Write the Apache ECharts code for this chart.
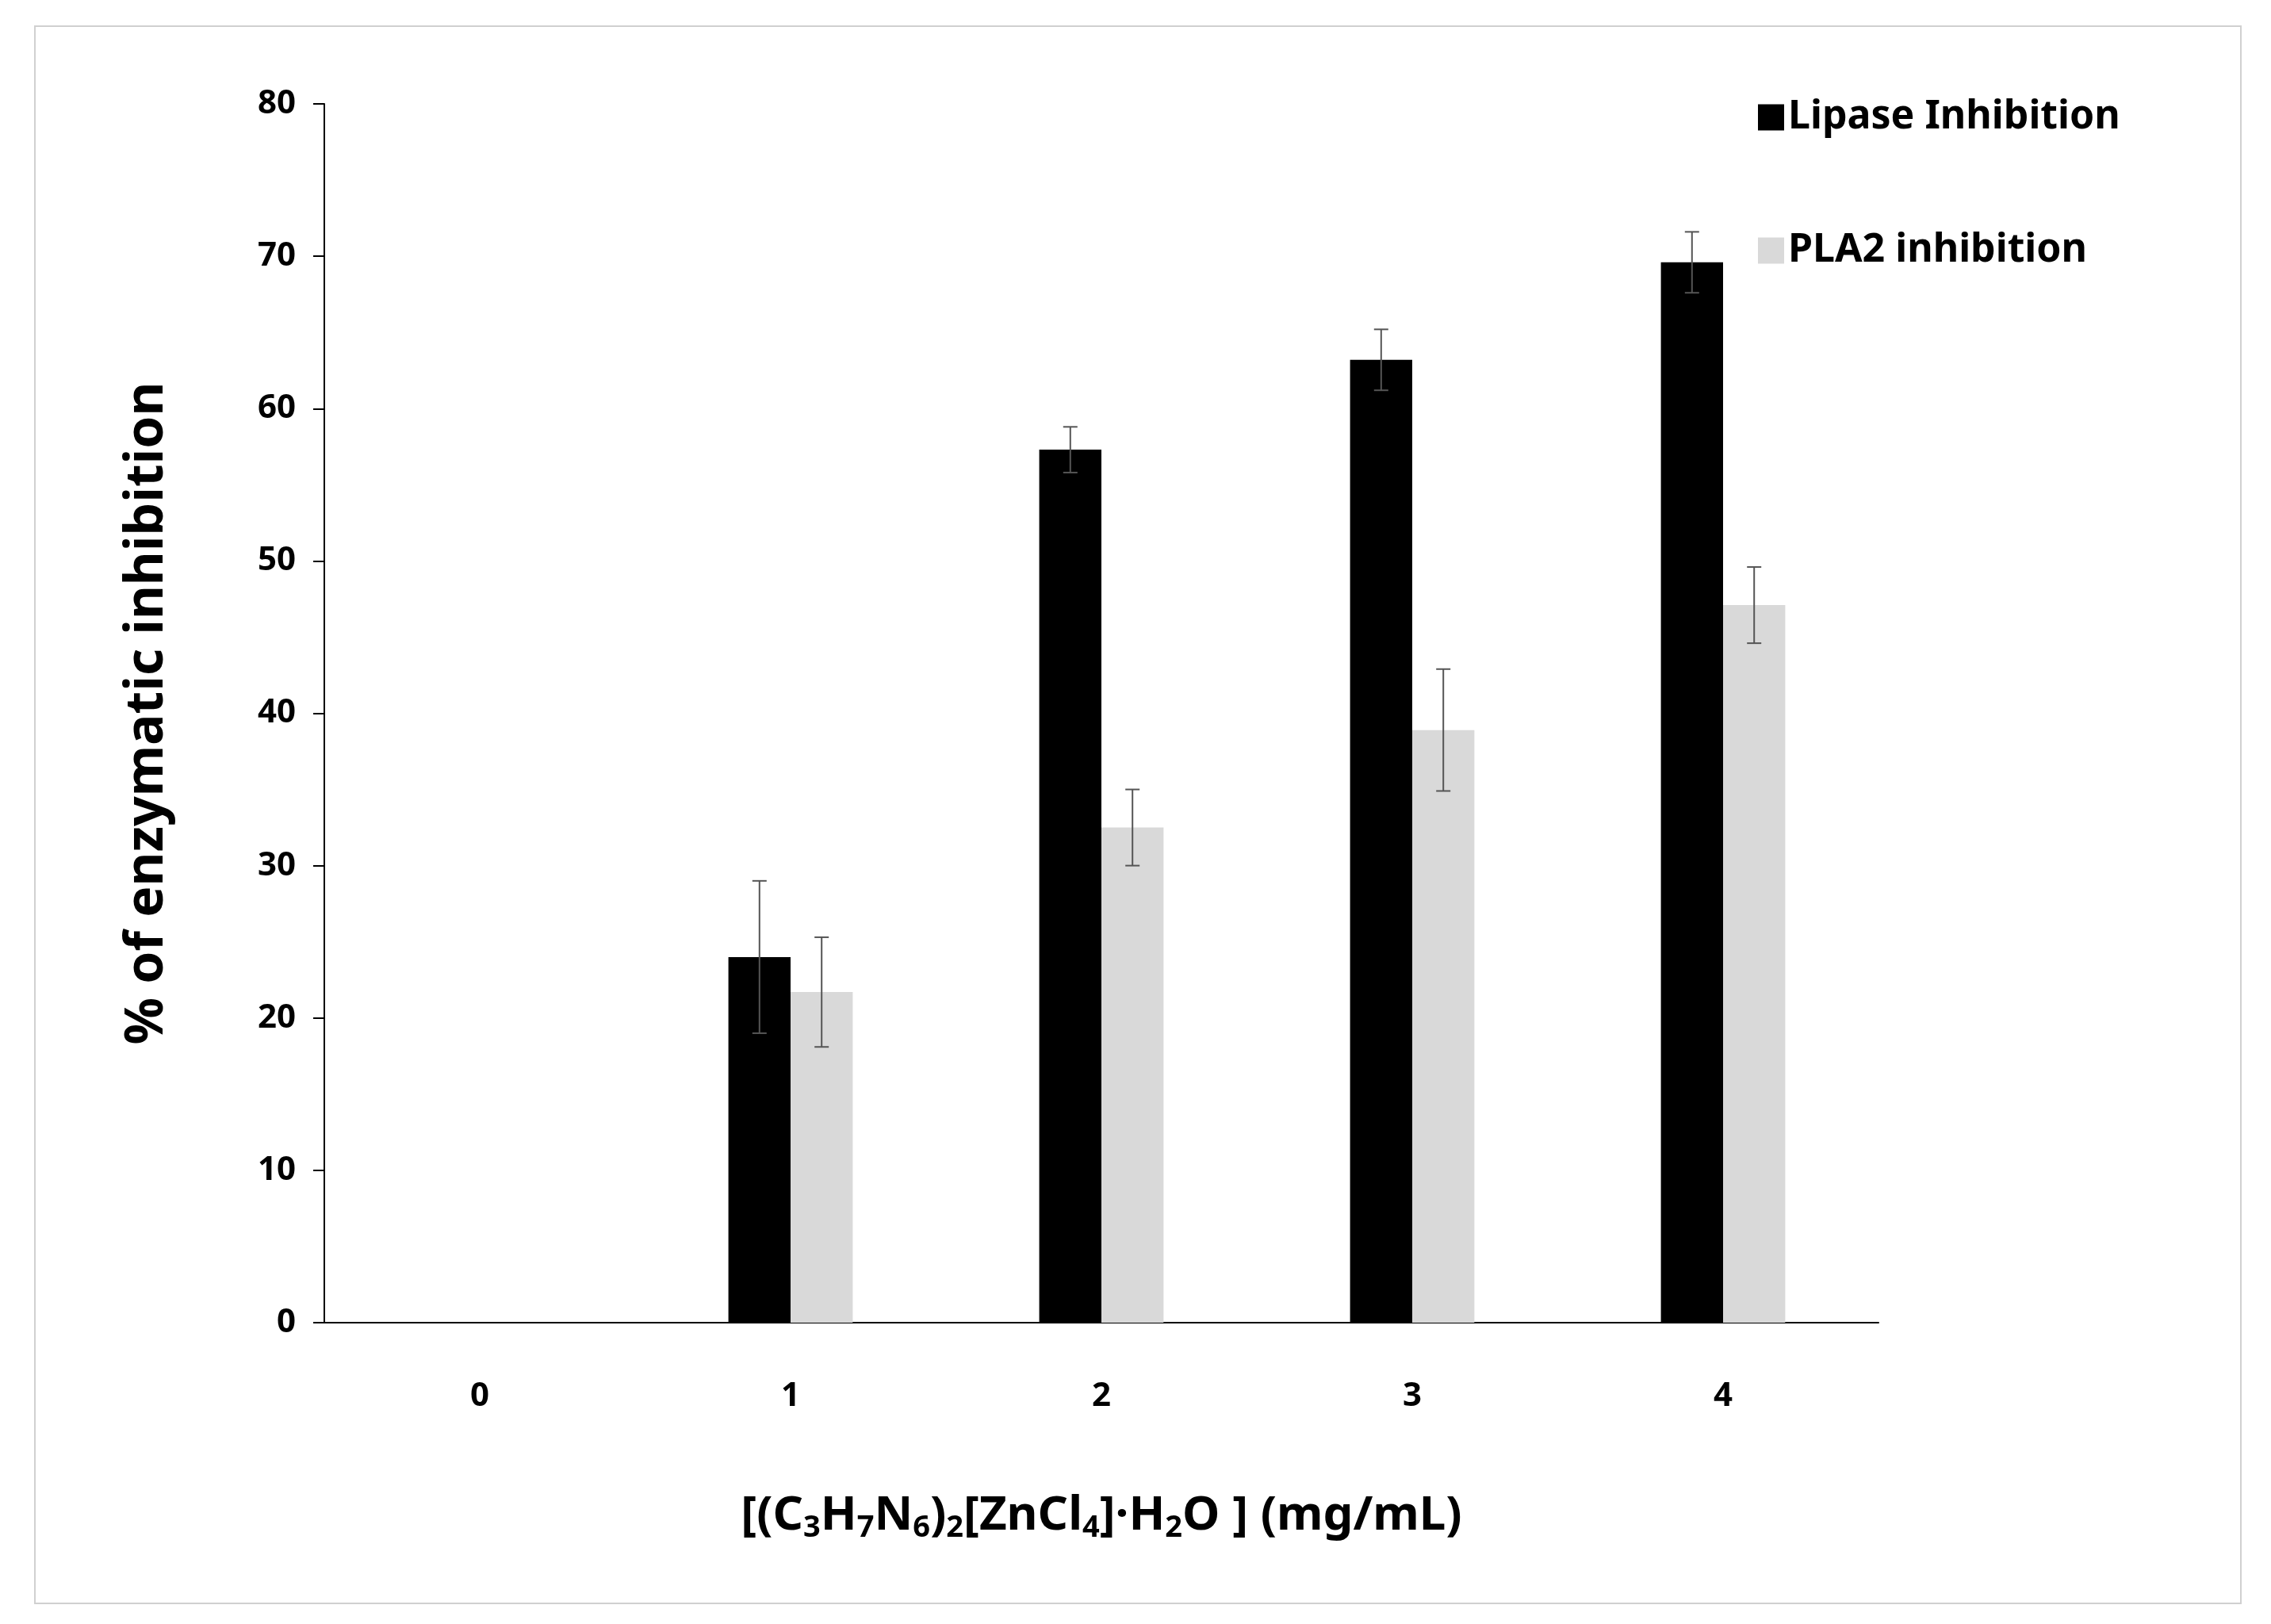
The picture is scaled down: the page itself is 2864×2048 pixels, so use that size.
<!DOCTYPE html>
<html>
<head>
<meta charset="utf-8">
<script src="https://cdn.jsdelivr.net/npm/echarts@6/dist/echarts.min.js"></script>
<style>html,body{margin:0;background:#fff}#c{width:2864px;height:2048px}</style>
</head>
<body>
<div id="c"></div>
<script>
var categories = ['0', '1', '2', '3', '4'];
var lipase = [0, 24.0, 57.3, 63.2, 69.6];
var lipaseErr = [0, 5.0, 1.5, 2.0, 2.0];
var pla2 = [0, 21.7, 32.5, 38.9, 47.1];
var pla2Err = [0, 3.6, 2.5, 4.0, 2.5];
var yTicks = [0, 80, 10];

function errSeries(vals, errs, side) {
	var data = [];
	for (var i = 0; i < vals.length; i++) {
		if (errs[i] > 0) data.push([i, vals[i] - errs[i], vals[i] + errs[i]]);
	}
	return {
		type: 'custom',
		silent: true,
		z: 10,
		data: data,
		renderItem: function(params, api) {
			var w = api.size([1, 0])[0];
			var off = side * w * 0.1;
			var lo = api.coord([api.value(0), api.value(1)]);
			var hi = api.coord([api.value(0), api.value(2)]);
			var x = lo[0] + off, cap = 9;
			var st = { stroke: '#555', lineWidth: 2 };
			return { type: 'group', children: [
				{ type: 'line', shape: { x1: x, y1: lo[1], x2: x, y2: hi[1] }, style: st },
				{ type: 'line', shape: { x1: x - cap, y1: lo[1], x2: x + cap, y2: lo[1] }, style: st },
				{ type: 'line', shape: { x1: x - cap, y1: hi[1], x2: x + cap, y2: hi[1] }, style: st }
			] };
		}
	};
}

var chart = echarts.init(document.getElementById('c'));
var font = '"Noto Sans", sans-serif';
chart.setOption({
	animation: false,
	graphic: [{ type: 'rect', shape: { x: 44, y: 33, width: 2782, height: 1989 }, style: { fill: 'none', stroke: '#d0d0d0', lineWidth: 2 } }],
	grid: { left: 409, right: 495, top: 131, bottom: 380 },
	legend: {
		orient: 'vertical', left: 2212, top: 118, itemWidth: 33, itemHeight: 33, itemGap: 118,
		icon: 'rect',
		textStyle: { fontFamily: font, fontWeight: 'bold', fontSize: 50, color: '#000' },
		data: ['Lipase Inhibition', 'PLA2 inhibition']
	},
	xAxis: {
		type: 'category', data: categories,
		axisLine: { lineStyle: { color: '#000', width: 2 } },
		axisTick: { show: false },
		axisLabel: { margin: 72, fontFamily: font, fontWeight: 'bold', fontSize: 42, color: '#000' },
		name: '{n|[(C}{s|3}{n|H}{s|7}{n|N}{s|6}{n|)}{s|2}{n|[ZnCl}{s|4}{n|]·H}{s|2}{n|O ] (mg/mL)}',
		nameLocation: 'middle', nameGap: 210,
		nameTextStyle: { rich: {
			n: { fontFamily: font, fontWeight: 'bold', fontSize: 60, color: '#000' },
			s: { fontFamily: font, fontWeight: 'bold', fontSize: 38, color: '#000', verticalAlign: 'bottom', padding: [30, 0, 0, 0] }
		} }
	},
	yAxis: {
		type: 'value', min: yTicks[0], max: yTicks[1], interval: yTicks[2],
		splitLine: { show: false },
		axisLine: { show: true, lineStyle: { color: '#000', width: 2 } },
		axisTick: { show: true, length: 14, lineStyle: { color: '#000', width: 2 } },
		axisLabel: { margin: 36, fontFamily: font, fontWeight: 'bold', fontSize: 42, color: '#000' },
		name: '% of enzymatic inhibition', nameLocation: 'middle', nameGap: 190,
		nameTextStyle: { fontFamily: font, fontWeight: 'bold', fontSize: 66, color: '#000' }
	},
	series: [
		{ name: 'Lipase Inhibition', type: 'bar', data: lipase, barWidth: '20%', barGap: '0%', itemStyle: { color: '#000' } },
		{ name: 'PLA2 inhibition', type: 'bar', data: pla2, barWidth: '20%', barGap: '0%', itemStyle: { color: '#d9d9d9' } },
		errSeries(lipase, lipaseErr, -1),
		errSeries(pla2, pla2Err, 1)
	]
});
window.onresize = chart.resize;
</script>
</body>
</html>
